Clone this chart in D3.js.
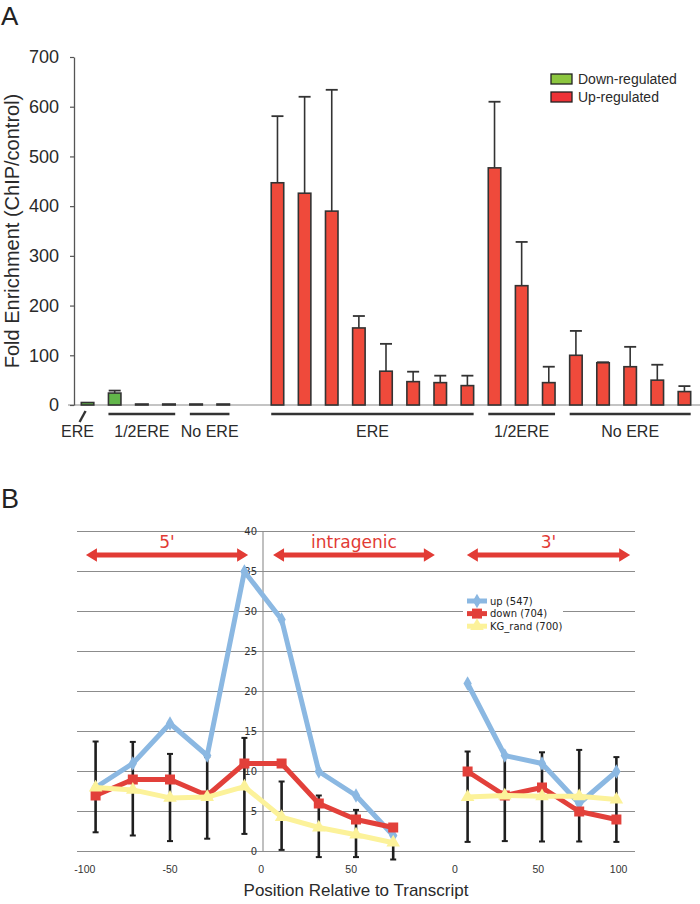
<!DOCTYPE html>
<html><head><meta charset="utf-8">
<script src="https://cdn.jsdelivr.net/npm/d3@7"></script>
<style>body{margin:0;background:#fff} svg{display:block}</style>
</head><body>
<svg id="c" width="700" height="904"></svg>
<script>
// ---------- Panel A data ----------
const slotsA = ["d1","d2","d3","d4","d5","d6","gap","u1","u2","u3","u4","u5","u6","u7","u8","u9","u10","u11","u12","u13","u14","u15","u16"];
const downSlots = ["d1","d2","d3","d4","d5","d6"];
const downValues = [5, 24, 2, 2, 2, 2];
const downErrTop = [5, 29, 2, 2, 2, 2];
const upSlots = ["u1","u2","u3","u4","u5","u6","u7","u8","u9","u10","u11","u12","u13","u14","u15","u16"];
const upValues = [447, 426, 390, 155, 68, 47, 45, 39, 477, 240, 45, 100, 85, 77, 50, 27];
const upErrTop = [581, 620, 634, 179, 123, 67, 59, 59, 610, 328, 77, 149, 86, 117, 81, 38];
const yTicksA = [0, 100, 200, 300, 400, 500, 600, 700];
const groupLabels = ["ERE", "1/2ERE", "No ERE", "ERE", "1/2ERE", "No ERE"];
const groupStart = ["d1", "d2", "d5", "u1", "u9", "u12"];
const groupEnd = ["d1", "d4", "d6", "u8", "u11", "u16"];
const legendA = ["Down-regulated", "Up-regulated"];

// ---------- Panel B data ----------
const slotsB = d3.range(15); // 9 (5' + intragenic), 1 empty, 5 (3')
const upB   = [8, 11, 16, 12, 35, 29, 10, 7, 2, null, 21, 12, 11, 6, 10];
const downB = [7, 9, 9, 7, 11, 11, 6, 4, 3, null, 10, 7, 8, 5, 4];
const randB = [8, 7.7, 6.7, 6.8, 8.1, 4.3, 3, 2.1, 1.1, null, 6.8, 7, 6.9, 6.9, 6.5];
const errHiB = [13.75, 13.7, 12.2, 11.8, 14.2, 8.75, 7, 5.2, 2, null, 12.5, 12, 12.4, 12.7, 11.8];
const errLoB = [2.4, 2, 1.3, 1.6, 2.2, 0.2, -0.7, -0.7, -1, null, 1.2, 1.3, 1.25, 1.25, 1.2];
const yTicksB = [0, 5, 10, 15, 20, 25, 30, 35, 40];
const xTickLabelsB = ["-100", "-50", "0", "50", "0", "50", "100"];
const xTickSlotsB = [0.21, 2.5, 4.95, 7.37, 10.16, 12.4, 14.56];
const regionLabels = ["5'", "intragenic", "3'"];
const regionFrom = [0.24, 5.27, 10.48];
const regionTo = [4.6, 9.62, 14.87];
const seriesNames = ["up (547)", "down (704)", "KG_rand (700)"];

const svg = d3.select("#c");
const FA = "'Liberation Sans', Arial, Helvetica, sans-serif";
const FV = "'DejaVu Sans', Verdana, sans-serif";

// ================= Panel A =================
svg.append("text").attr("x", 1).attr("y", 25).attr("font-family", FA).attr("font-size", 26).attr("fill", "#222").text("A");

const yA = d3.scaleLinear().domain([0, 700]).range([405, 57]);
const xA = d3.scaleBand().domain(slotsA).range([74, 698]);
const barW = 12.5;
const cxA = s => xA(s) + xA.bandwidth() / 2;

// baseline
svg.append("line").attr("x1", 68).attr("x2", 700).attr("y1", yA(0)).attr("y2", yA(0))
  .attr("stroke", "#8a8a8a").attr("stroke-width", 1.2);

const axA = svg.append("g").attr("transform", "translate(74,0)")
  .call(d3.axisLeft(yA).tickValues(yTicksA).tickSize(4).tickSizeOuter(0).tickPadding(11));
axA.select(".domain").attr("stroke", "#555").attr("stroke-width", 1.3);
axA.selectAll(".tick line").attr("stroke", "#555").attr("stroke-width", 1.2);
axA.selectAll(".tick text").attr("font-family", FA).attr("font-size", 18).attr("fill", "#2a2a2a");

svg.append("text").attr("transform", "translate(19,231) rotate(-90)")
  .attr("text-anchor", "middle").attr("font-family", FA).attr("font-size", 20).attr("fill", "#2a2a2a")
  .text("Fold Enrichment (ChIP/control)");

function drawBars(slots, vals, errs, fill) {
  const g = svg.append("g");
  slots.forEach((s, i) => {
    const x = cxA(s);
    if (errs[i] > vals[i]) {
      g.append("line").attr("x1", x).attr("x2", x).attr("y1", yA(vals[i])).attr("y2", yA(errs[i]))
        .attr("stroke", "#333").attr("stroke-width", 1.6);
      g.append("line").attr("x1", x - 6).attr("x2", x + 6).attr("y1", yA(errs[i])).attr("y2", yA(errs[i]))
        .attr("stroke", "#333").attr("stroke-width", 1.8);
    }
    g.append("rect").attr("x", x - barW / 2).attr("width", barW)
      .attr("y", yA(vals[i])).attr("height", yA(0) - yA(vals[i]))
      .attr("fill", fill).attr("stroke", "#333").attr("stroke-width", 1.6);
  });
}
drawBars(downSlots, downValues, downErrTop, "#62b64a");
drawBars(upSlots, upValues, upErrTop, "#ef4a3b");

// group brackets
groupLabels.forEach((lab, i) => {
  const x1 = cxA(groupStart[i]) - barW / 2, x2 = cxA(groupEnd[i]) + barW / 2;
  let lx = (x1 + x2) / 2;
  if (groupStart[i] === groupEnd[i]) {
    const c = cxA(groupStart[i]);
    svg.append("line").attr("x1", c - 8).attr("y1", 422).attr("x2", c - 2).attr("y2", 411)
      .attr("stroke", "#333").attr("stroke-width", 2.4);
    lx = c - 10;
  } else {
    svg.append("line").attr("x1", x1).attr("x2", x2).attr("y1", 414).attr("y2", 414)
      .attr("stroke", "#333").attr("stroke-width", 2.6);
  }
  svg.append("text").attr("x", lx).attr("y", 437).attr("text-anchor", "middle")
    .attr("font-family", FA).attr("font-size", 16).attr("fill", "#2a2a2a").text(lab);
});

// legend A
const legCols = ["#8cc63f", "#ed3237"];
legendA.forEach((t, i) => {
  svg.append("rect").attr("x", 551).attr("y", 74 + i * 18).attr("width", 21).attr("height", 10)
    .attr("fill", legCols[i]).attr("stroke", "#222").attr("stroke-width", 1.3);
  svg.append("text").attr("x", 578).attr("y", 84 + i * 18).attr("font-family", FA).attr("font-size", 14)
    .attr("fill", "#2a2a2a").text(t);
});

// ================= Panel B =================
svg.append("text").attr("x", 1).attr("y", 508).attr("font-family", FA).attr("font-size", 27).attr("fill", "#222").text("B");

const yB = d3.scaleLinear().domain([0, 40]).range([851.5, 531.5]);
const xB = d3.scaleBand().domain(slotsB).range([77, 635]);
const slotX = d3.scaleLinear().domain([0, 15]).range([77, 635]);
const cxB = i => xB(i) + xB.bandwidth() / 2;

// gridlines
svg.append("g").selectAll("line").data(yTicksB).join("line")
  .attr("x1", 77).attr("x2", 635).attr("y1", d => yB(d)).attr("y2", d => yB(d))
  .attr("stroke", "#8c8c8c").attr("stroke-width", 1.1);
// vertical axis
svg.append("line").attr("x1", slotX(5)).attr("x2", slotX(5)).attr("y1", yB(40)).attr("y2", yB(0))
  .attr("stroke", "#8c8c8c").attr("stroke-width", 1.1);
// y tick labels
svg.append("g").selectAll("text").data(yTicksB).join("text")
  .attr("x", slotX(5) - 6).attr("y", d => yB(d)).attr("dy", "0.36em").attr("text-anchor", "end")
  .attr("font-family", FV).attr("font-size", 10).attr("fill", "#333").text(d => d);
// x tick labels
xTickLabelsB.forEach((t, i) => {
  svg.append("text").attr("x", slotX(xTickSlotsB[i])).attr("y", 873).attr("text-anchor", "middle")
    .attr("font-family", FA).attr("font-size", 10.5).attr("fill", "#333").text(t);
});
svg.append("text").attr("x", 356).attr("y", 896).attr("text-anchor", "middle")
  .attr("font-family", FA).attr("font-size", 17).attr("fill", "#2a2a2a").text("Position Relative to Transcript");

// region arrows
const arrowCol = "#e23b35";
regionLabels.forEach((t, i) => {
  const a = slotX(regionFrom[i]), b = slotX(regionTo[i]), y = 555, sh = 2.6, hh = 6.8, hl = 11;
  const pts = [[a, y], [a + hl, y - hh], [a + hl, y - sh], [b - hl, y - sh], [b - hl, y - hh], [b, y],
               [b - hl, y + hh], [b - hl, y + sh], [a + hl, y + sh], [a + hl, y + hh]];
  svg.append("path").attr("d", "M" + pts.map(p => p.join(",")).join("L") + "Z").attr("fill", arrowCol);
  svg.append("text").attr("x", (a + b) / 2).attr("y", 548).attr("text-anchor", "middle")
    .attr("font-family", FV).attr("font-size", 17).attr("fill", arrowCol).text(t);
});

// error bars
const eg = svg.append("g");
slotsB.forEach(i => {
  if (errHiB[i] == null) return;
  const x = cxB(i);
  eg.append("line").attr("x1", x).attr("x2", x).attr("y1", yB(errHiB[i])).attr("y2", yB(errLoB[i]))
    .attr("stroke", "#1e1e1e").attr("stroke-width", 2.6);
  [errHiB[i], errLoB[i]].forEach(v => eg.append("line").attr("x1", x - 3).attr("x2", x + 3)
    .attr("y1", yB(v)).attr("y2", yB(v)).attr("stroke", "#1e1e1e").attr("stroke-width", 2));
});

// series
const series = [
  {vals: upB, col: "#8bb8e2", sym: d3.symbolDiamond, size: 60},
  {vals: downB, col: "#e2403a", sym: d3.symbolSquare, size: 100},
  {vals: randB, col: "#fcf29a", sym: d3.symbolTriangle, size: 80}
];
const line = d3.line().defined(d => d.v != null).x(d => cxB(d.i)).y(d => yB(d.v));
series.forEach(s => {
  const pts = s.vals.map((v, i) => ({i, v}));
  svg.append("path").attr("d", line(pts)).attr("fill", "none").attr("stroke", s.col)
    .attr("stroke-width", 5).attr("stroke-linejoin", "round");
  svg.append("g").selectAll("path").data(pts.filter(d => d.v != null)).join("path")
    .attr("transform", d => `translate(${cxB(d.i)},${yB(d.v)})`)
    .attr("d", d3.symbol(s.sym, s.size)).attr("fill", s.col);
});

// legend B
svg.append("rect").attr("x", 463).attr("y", 592).attr("width", 100).attr("height", 42).attr("fill", "#fff");
seriesNames.forEach((t, i) => {
  const y = 601 + i * 12.6, s = series[i];
  svg.append("line").attr("x1", 467).attr("x2", 487).attr("y1", y).attr("y2", y)
    .attr("stroke", s.col).attr("stroke-width", 5);
  svg.append("path").attr("transform", `translate(477,${y})`).attr("d", d3.symbol(s.sym, s.size)).attr("fill", s.col);
  svg.append("text").attr("x", 490).attr("y", y).attr("dy", "0.35em").attr("font-family", FV)
    .attr("font-size", 10).attr("fill", "#222").text(t);
});
</script></body></html>
